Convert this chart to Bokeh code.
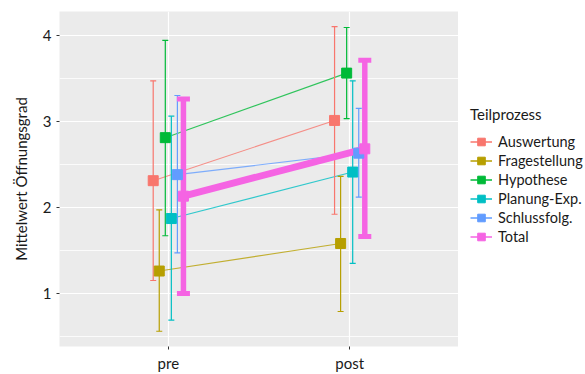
from bokeh.plotting import figure
from bokeh.layouts import row
from bokeh.models import Range1d, FixedTicker, Legend, LegendItem
from bokeh.embed import file_html
from bokeh.resources import INLINE

# ---- data ----
categories = ["pre", "post"]
groups = ["Auswertung", "Fragestellung", "Hypothese", "Planung-Exp.", "Schlussfolg.", "Total"]
colors = ["#F8766D", "#B79F00", "#00BA38", "#00BFC4", "#619CFF", "#F564E3"]

mean_pre = [2.31, 1.26, 2.81, 1.87, 2.38, 2.13]
mean_post = [3.01, 1.58, 3.56, 2.41, 2.63, 2.68]
lower_pre = [1.15, 0.56, 1.67, 0.69, 1.47, 1.00]
upper_pre = [3.47, 1.97, 3.94, 3.06, 3.30, 3.26]
lower_post = [1.92, 0.79, 3.03, 1.35, 2.12, 1.66]
upper_post = [4.10, 2.36, 4.09, 3.47, 3.15, 3.71]

y_ticks = [1, 2, 3, 4]
y_minor = [0.5, 1.5, 2.5, 3.5]

FONT = "Lato"
DODGE = 0.2

p = figure(width=458, height=374, output_backend="svg", toolbar_location=None,
           x_range=Range1d(0.4, 2.6), y_range=Range1d(0.383, 4.276),
           min_border_left=59, min_border_right=0, min_border_top=11, min_border_bottom=24)
p.background_fill_color = "#EBEBEB"
p.border_fill_color = "white"
p.outline_line_color = None

# grids
p.xgrid.ticker = FixedTicker(ticks=[1, 2])
p.xgrid.grid_line_color = "white"
p.xgrid.grid_line_width = 1.2
p.ygrid.ticker = FixedTicker(ticks=y_ticks, minor_ticks=y_minor)
p.ygrid.grid_line_color = "white"
p.ygrid.grid_line_width = 1.2
p.ygrid.minor_grid_line_color = "white"
p.ygrid.minor_grid_line_width = 0.8

# axes
p.xaxis.ticker = FixedTicker(ticks=[1, 2])
p.xaxis.major_label_overrides = {i + 1: c for i, c in enumerate(categories)}
p.yaxis.ticker = FixedTicker(ticks=y_ticks)
p.yaxis.axis_label = "Mittelwert Öffnungsgrad"
for ax in (p.xaxis, p.yaxis):
    ax.axis_line_color = None
    ax.major_tick_line_color = "#333333"
    ax.major_tick_in = 0
    ax.major_tick_out = 3
    ax.minor_tick_line_color = None
    ax.major_label_text_font = FONT
    ax.major_label_text_font_size = "15px"
    ax.major_label_text_color = "#1a1a1a"
    ax.major_label_standoff = 5
p.yaxis.axis_label_text_font = FONT
p.yaxis.axis_label_text_font_size = "15px"
p.yaxis.axis_label_text_font_style = "normal"
p.yaxis.axis_label_text_color = "#1a1a1a"
p.yaxis.axis_label_standoff = 10
p.xaxis.major_label_standoff = 4

n = len(groups)
xs_pre, xs_post = [], []
for i in range(n):
    off = (i - (n - 1) / 2) * DODGE / n
    xs_pre.append(1 + off)
    xs_post.append(2 + off)

# group connecting lines (thin)
for i in range(n - 1):
    p.line([xs_pre[i], xs_post[i]], [mean_pre[i], mean_post[i]],
           line_color=colors[i], line_width=1.1, line_alpha=0.8)

# error bars
for i in range(n):
    total = groups[i] == "Total"
    lw = 5.5 if total else 1.2
    cap = 13 if total else 6
    xb = [xs_pre[i], xs_post[i]]
    lo = [lower_pre[i], lower_post[i]]
    hi = [upper_pre[i], upper_post[i]]
    p.segment(x0=xb, y0=lo, x1=xb, y1=hi, line_color=colors[i], line_width=lw)
    p.scatter(xb, lo, marker="dash", size=cap, line_color=colors[i], line_width=5 if total else 1.2)
    p.scatter(xb, hi, marker="dash", size=cap, line_color=colors[i], line_width=5 if total else 1.2)

# total line (thick)
ti = groups.index("Total")
p.line([xs_pre[ti], xs_post[ti]], [mean_pre[ti], mean_post[ti]],
       line_color=colors[ti], line_width=7)

# points
for i in range(n):
    p.scatter([xs_pre[i], xs_post[i]], [mean_pre[i], mean_post[i]],
              marker="square", size=10, fill_color=colors[i], line_color=colors[i])

# ---- legend panel (separate figure to the right) ----
lg = figure(width=127, height=374, output_backend="svg", toolbar_location=None,
            x_range=Range1d(0.4, 2.6), y_range=Range1d(0.383, 4.276),
            min_border=0)
lg.axis.visible = False
lg.grid.visible = False
lg.outline_line_color = None
lg.background_fill_color = "white"

items = []
for i in range(n):
    kl = lg.line([xs_pre[i], xs_post[i]], [mean_pre[i], mean_post[i]],
                 line_color=colors[i], line_width=1.5, visible=False)
    ks = lg.scatter([xs_pre[i], xs_post[i]], [mean_pre[i], mean_post[i]],
                    marker="square", size=10, fill_color=colors[i], line_color=colors[i],
                    visible=False)
    items.append(LegendItem(label=groups[i], renderers=[kl, ks]))

legend = Legend(items=items, location=(12, 100), title="Teilprozess",
                padding=0, margin=0, spacing=0, glyph_width=22, glyph_height=19,
                label_height=19, label_standoff=6, title_standoff=9,
                border_line_color=None, background_fill_alpha=0,
                inactive_fill_alpha=0, click_policy="none",
                label_text_font=FONT, label_text_font_size="14.5px", label_text_color="#1a1a1a",
                title_text_font=FONT, title_text_font_size="15px", title_text_font_style="normal",
                title_text_color="#1a1a1a")
lg.add_layout(legend, "center")

layout = row(p, lg, spacing=0)
open("out.html", "w").write(file_html(layout, INLINE))
